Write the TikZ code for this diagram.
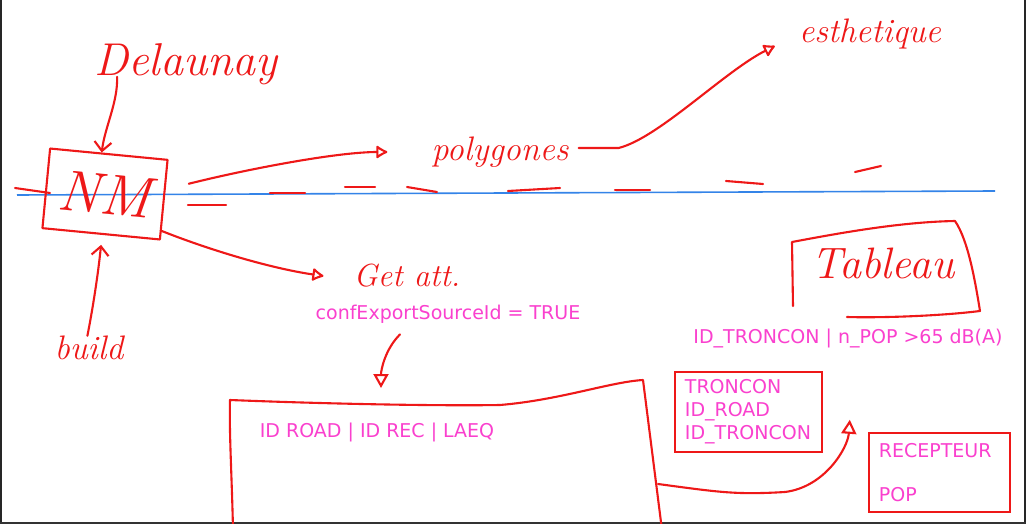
\documentclass[tikz,border=0pt]{standalone}
\usepackage{fontspec}
\setsansfont{DejaVu Sans}
\usetikzlibrary{arrows.meta,positioning}
\definecolor{penred}{RGB}{238,24,24}
\definecolor{typepink}{RGB}{250,64,206}
\definecolor{inkblue}{RGB}{52,132,232}
\tikzset{
  pen/.style  ={draw=penred, line width=2.1pt, line cap=round, line join=round},
  hand/.style ={text=penred, inner sep=0pt, font=\itshape\fontsize{#1}{#1}\selectfont},
  typed/.style={text=typepink, inner sep=0pt, font=\sffamily\fontsize{19}{23}\selectfont},
  tbl/.style  ={typed, draw=penred, line width=1.8pt, align=left, inner xsep=10pt, anchor=north west},
  penV/.style ={pen, -{Straight Barb[length=9pt,width=17pt]}},
  penD/.style ={pen, -{Latex[open,round,length=13pt,width=15pt]}},
  penT/.style ={pen, -{Triangle[open,length=14pt,width=15pt]}},
}
\begin{document}
\begin{tikzpicture}[x=1pt, y=-1pt]
  \useasboundingbox (0,0) rectangle (1026,524);
  \fill[white] (0,0) rectangle (1026,524);
  % screen frame
  \fill[black!85] (0,0) rectangle (2,524);
  \fill[black!85] (1024,0) rectangle (1026,524);
  \fill[black!80] (0,522) rectangle (1026,524);

  % ground line with the dashes
  \coordinate (skyW) at (17,195);
  \coordinate (skyE) at (995,191);
  \draw[inkblue, line width=1.6pt] (skyW) -- (skyE);
  \foreach \xa/\ya/\xb/\yb in {15/188/50/193, 188/205/226/205, 270/193/305/193,
      345/187/375/187, 407/187/437/192, 508/191/560/188, 615/190/650/190,
      726/181/763/184, 855/172/881/166}
    \draw[pen] (\xa,\ya) -- (\xb,\yb);

  \node[pen, hand=58, rotate=-5.5, minimum width=118pt, minimum height=80pt] (nm) at (105,194) {NM};
  \node[hand=46] (delaunay) at (186,64)  {Delaunay};
  \node[hand=34] (build)    at (89,348)  {build};
  \node[hand=34] (poly)     at (500,152) {polygones};
  \node[hand=34] (esth)     at (870,34)  {esthetique};
  \node[hand=32] (getatt)   at (407,276) {Get att.};
  \node[hand=44] (tableau)  at (883,263) {Tableau};

  \node[typed] (conf)    at (448,314) {confExportSourceId = TRUE};
  \node[typed] (legend)  at (848,338) {ID\_TRONCON | n\_POP >65 dB(A)};
  \node[typed] (roadrec) at (377,432) {ID ROAD | ID REC | LAEQ};
  \node[tbl, text width=127pt, minimum height=80pt] (troncon) at (674,371) {TRONCON\\ID\_ROAD\\ID\_TRONCON};
  \node[tbl, text width=121pt, minimum height=79pt] (recept)  at (868,432) {RECEPTEUR\\[21pt]POP};

  % hand drawn frames
  \draw[pen] (233,530) .. controls (232,480) and (229,430) .. (230,400)
     .. controls (330,404) and (440,406) .. (500,405)
     .. controls (560,400) and (610,382) .. (643,380) -- (662,530);
  \coordinate (bigtop)   at (381,400);
  \coordinate (bigright) at (658,484);
  \draw[pen] (793,306) -- (792,242) .. controls (840,233) and (900,222) .. (955,221)
     .. controls (968,240) and (975,280) .. (980,311)
     .. controls (940,316) and (880,318) .. (847,317);

  \draw[penV] ([xshift=23pt,yshift=8pt]delaunay.south west) .. controls +(1,25) and +(3,-25) .. (nm.100);
  \draw[penV] ([xshift=33pt]build.north west) .. controls +(5,-25) and +(-3,30) .. ([yshift=-10pt]nm.south);
  \draw[penD] ([shift={(24pt,16pt)}]nm.east) .. controls +(60,-15) and +(-50,0) .. ([xshift=-44pt]poly.west);
  \draw[penD] ([shift={(10pt,4pt)}]poly.east) -- ++(40,0)
     .. controls +(40,-10) and +(-50,25) .. ([shift={(-24pt,-12pt)}]esth.west);
  \draw[penD] ([yshift=10pt]nm.south east) .. controls +(45,18) and +(-55,-8) .. ([xshift=-30pt]getatt.west);
  \draw[penT] ([shift={(-48pt,-11pt)}]conf.south) .. controls +(-15,15) and +(0,-18) .. ([yshift=12pt]bigtop);
  \draw[penT] (bigright) .. controls +(60,8) and +(-50,3) .. (785,492)
     .. controls +(40,-5) and +(-2,28) .. ([shift={(27pt,33pt)}]troncon.south east);
\end{tikzpicture}
\end{document}
